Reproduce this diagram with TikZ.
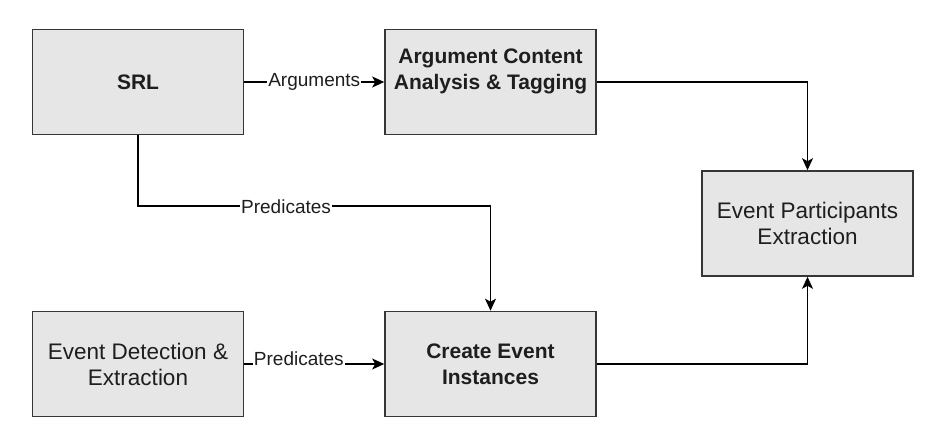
\documentclass[tikz,border=0pt]{standalone}
\usepackage{fontspec}
\setmainfont{Liberation Sans}
\usepackage{tikz}
\usetikzlibrary{arrows.meta,positioning}
\usepackage{xcolor}
\definecolor{boxgray}{RGB}{230,230,230}
\definecolor{boxline}{RGB}{54,54,54}
\definecolor{txtdark}{RGB}{30,30,30}
\tikzstyle{arrow} = [line width=1.7pt,-{Stealth[length=12pt,width=11pt,inset=3pt]},color=black]
\tikzstyle{stage} = [rectangle, minimum width=211pt, minimum height=105pt, align=center, text centered, draw=boxline, fill=boxgray, line width=1.6pt, text=txtdark, font=\fontsize{22.5}{26}\selectfont]
\tikzstyle{boldstage} = [stage, font=\fontsize{21}{26}\selectfont\bfseries]
\tikzstyle{edgelabel} = [fill=white, inner sep=1pt, text=txtdark, font=\fontsize{19}{22}\selectfont]

\begin{document}
\begin{tikzpicture}[x=1pt, y=1pt]
\useasboundingbox (0,0) rectangle (949,429);

% Processing stages
\node (srl) [boldstage] at (138,347) {SRL};
\node (argtag) [boldstage] at (490.5,347) {Argument Content\\Analysis \& Tagging\\\mbox{}};
\node (participants) [stage] at (807.5,205.5) {Event Participants\\Extraction};
\node (detect) [stage] at (138,65) {Event Detection \&\\Extraction};
\node (create) [boldstage] at (490.5,65) {Create Event\\Instances};

% Connections
\draw[arrow] (srl) -- node[edgelabel] {Arguments} (argtag);
\draw[arrow] (srl.south) -- ++(0,-71) -| node[edgelabel, pos=0.21] {Predicates} (create.north);
\draw[arrow] (detect) -- node[edgelabel, pos=0.39, yshift=5pt] {Predicates} (create);
\draw[arrow] (argtag.east) -| (participants.north);
\draw[arrow] (create.east) -| (participants.south);
\end{tikzpicture}
\end{document}
